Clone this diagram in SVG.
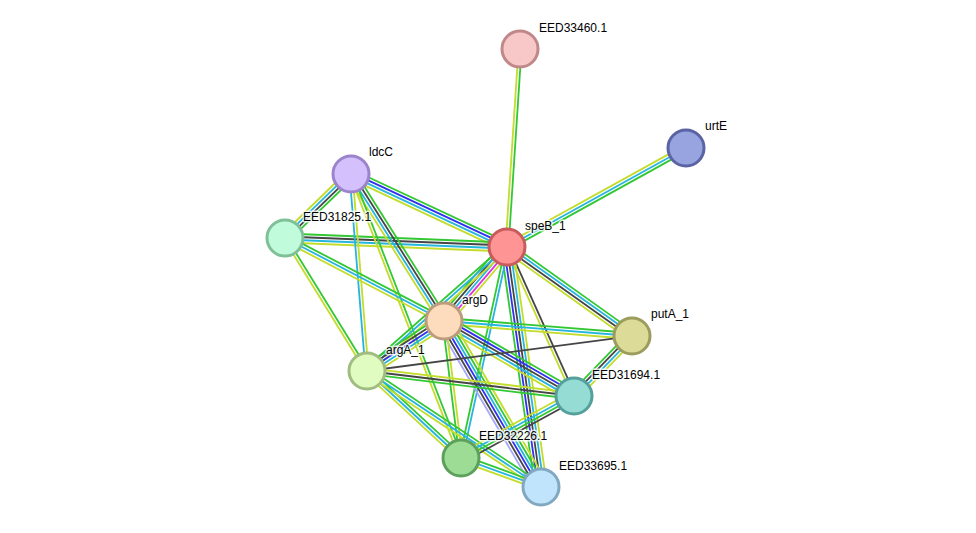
<svg xmlns="http://www.w3.org/2000/svg" width="976" height="533" viewBox="0 0 976 533">
<style>
line{stroke-width:1.8;fill:none}
.g{stroke:#33c833}.b{stroke:#3030f0}.k{stroke:#454545}.c{stroke:#26b5dd}.y{stroke:#c4dc2c}.m{stroke:#e030e0}.h{stroke:#a8a8f8}
circle{stroke-width:3}
text{font-family:"Liberation Sans",Arial,sans-serif;font-size:12px;fill:#000;stroke:#fff;stroke-width:3px;stroke-opacity:0.8;paint-order:stroke;stroke-linejoin:round}
</style>
<rect width="976" height="533" fill="#fff"/>
<g id="connectors">
<g transform="translate(507 247) rotate(-86.24)"><line class="y" x2="198.4" y1="-1.5" y2="-1.5"/><line class="g" x2="198.4" y1="1.5" y2="1.5"/></g>
<g transform="translate(507 247) rotate(-28.95)"><line class="y" x2="204.6" y1="-3" y2="-3"/><line class="c" x2="204.6"/><line class="g" x2="204.6" y1="3" y2="3"/></g>
<g transform="translate(507 247) rotate(-154.93)"><line class="y" x2="172.2" y1="-4.5" y2="-4.5"/><line class="c" x2="172.2" y1="-1.5" y2="-1.5"/><line class="b" x2="172.2" y1="1.5" y2="1.5"/><line class="g" x2="172.2" y1="4.5" y2="4.5"/></g>
<g transform="translate(351 174) rotate(135.88)"><line class="g" x2="91.9" y1="-4.5" y2="-4.5"/><line class="k" x2="91.9" y1="-1.5" y2="-1.5"/><line class="c" x2="91.9" y1="1.5" y2="1.5"/><line class="y" x2="91.9" y1="4.5" y2="4.5"/></g>
<g transform="translate(285 238) rotate(2.32)"><line class="g" x2="222.2" y1="-4.5" y2="-4.5"/><line class="k" x2="222.2" y1="-1.5" y2="-1.5"/><line class="c" x2="222.2" y1="1.5" y2="1.5"/><line class="y" x2="222.2" y1="4.5" y2="4.5"/></g>
<g transform="translate(351 174) rotate(57.68)"><line class="g" x2="174" y1="-4.5" y2="-4.5"/><line class="k" x2="174" y1="-1.5" y2="-1.5"/><line class="c" x2="174" y1="1.5" y2="1.5"/><line class="y" x2="174" y1="4.5" y2="4.5"/></g>
<g transform="translate(351 174) rotate(85.36)"><line class="y" x2="197.7" y1="-1.5" y2="-1.5"/><line class="c" x2="197.7" y1="1.5" y2="1.5"/></g>
<g transform="translate(351 174) rotate(68.83)"><line class="g" x2="304.6" y1="-1.5" y2="-1.5"/><line class="y" x2="304.6" y1="1.5" y2="1.5"/></g>
<g transform="translate(285 238) rotate(27.57)"><line class="g" x2="179.4" y1="-3" y2="-3"/><line class="c" x2="179.4"/><line class="y" x2="179.4" y1="3" y2="3"/></g>
<g transform="translate(285 238) rotate(58.35)"><line class="g" x2="156.3" y1="-1.5" y2="-1.5"/><line class="y" x2="156.3" y1="1.5" y2="1.5"/></g>
<g transform="translate(507 247) rotate(130.42)"><line class="y" x2="97.2" y1="-6" y2="-6"/><line class="m" x2="97.2" y1="-3" y2="-3"/><line class="c" x2="97.2"/><line class="k" x2="97.2" y1="3" y2="3"/><line class="g" x2="97.2" y1="6" y2="6"/></g>
<g transform="translate(507 247) rotate(138.47)"><line class="y" x2="187" y1="-3" y2="-3"/><line class="c" x2="187"/><line class="g" x2="187" y1="3" y2="3"/></g>
<g transform="translate(507 247) rotate(35.45)"><line class="g" x2="153.5" y1="-4.5" y2="-4.5"/><line class="c" x2="153.5" y1="-1.5" y2="-1.5"/><line class="k" x2="153.5" y1="1.5" y2="1.5"/><line class="y" x2="153.5" y1="4.5" y2="4.5"/></g>
<g transform="translate(507 247) rotate(65.79)"><line class="k" x2="163.4" y1="-1.5" y2="-1.5"/><line class="y" x2="163.4" y1="1.5" y2="1.5"/></g>
<g transform="translate(507 247) rotate(81.94)"><line class="y" x2="242.4" y1="-6" y2="-6"/><line class="c" x2="242.4" y1="-3" y2="-3"/><line class="k" x2="242.4"/><line class="b" x2="242.4" y1="3" y2="3"/><line class="g" x2="242.4" y1="6" y2="6"/></g>
<g transform="translate(507 247) rotate(102.3)"><line class="c" x2="216" y1="-1.5" y2="-1.5"/><line class="g" x2="216" y1="1.5" y2="1.5"/></g>
<g transform="translate(444 321) rotate(4.56)"><line class="g" x2="188.6" y1="-3" y2="-3"/><line class="c" x2="188.6"/><line class="y" x2="188.6" y1="3" y2="3"/></g>
<g transform="translate(367 371) rotate(-33)"><line class="g" x2="91.8" y1="-6" y2="-6"/><line class="k" x2="91.8" y1="-3" y2="-3"/><line class="b" x2="91.8"/><line class="c" x2="91.8" y1="3" y2="3"/><line class="y" x2="91.8" y1="6" y2="6"/></g>
<g transform="translate(444 321) rotate(29.98)"><line class="g" x2="150.1" y1="-6" y2="-6"/><line class="b" x2="150.1" y1="-3" y2="-3"/><line class="k" x2="150.1"/><line class="c" x2="150.1" y1="3" y2="3"/><line class="y" x2="150.1" y1="6" y2="6"/></g>
<g transform="translate(444 321) rotate(59.71)"><line class="y" x2="192.3" y1="-7.5" y2="-7.5"/><line class="g" x2="192.3" y1="-4.5" y2="-4.5"/><line class="c" x2="192.3" y1="-1.5" y2="-1.5"/><line class="b" x2="192.3" y1="1.5" y2="1.5"/><line class="k" x2="192.3" y1="4.5" y2="4.5"/><line class="h" x2="192.3" y1="7.5" y2="7.5"/></g>
<g transform="translate(444 321) rotate(82.93)"><line class="y" x2="138.1" y1="-1.5" y2="-1.5"/><line class="g" x2="138.1" y1="1.5" y2="1.5"/></g>
<g transform="translate(367 371) rotate(-7.52)"><line class="k" x2="267.3"/></g>
<g transform="translate(367 371) rotate(6.89)"><line class="y" x2="208.5" y1="-3" y2="-3"/><line class="k" x2="208.5"/><line class="g" x2="208.5" y1="3" y2="3"/></g>
<g transform="translate(367 371) rotate(42.78)"><line class="g" x2="128.1" y1="-3" y2="-3"/><line class="c" x2="128.1"/><line class="y" x2="128.1" y1="3" y2="3"/></g>
<g transform="translate(367 371) rotate(33.69)"><line class="g" x2="209.1" y1="-3" y2="-3"/><line class="c" x2="209.1"/><line class="y" x2="209.1" y1="3" y2="3"/></g>
<g transform="translate(574 396) rotate(-45.97)"><line class="g" x2="83.5" y1="-4.5" y2="-4.5"/><line class="k" x2="83.5" y1="-1.5" y2="-1.5"/><line class="c" x2="83.5" y1="1.5" y2="1.5"/><line class="y" x2="83.5" y1="4.5" y2="4.5"/></g>
<g transform="translate(574 396) rotate(151.25)"><line class="k" x2="128.9" y1="-4.5" y2="-4.5"/><line class="g" x2="128.9" y1="-1.5" y2="-1.5"/><line class="c" x2="128.9" y1="1.5" y2="1.5"/><line class="y" x2="128.9" y1="4.5" y2="4.5"/></g>
<g transform="translate(461 458) rotate(19.93)"><line class="g" x2="85.1" y1="-3" y2="-3"/><line class="c" x2="85.1"/><line class="y" x2="85.1" y1="3" y2="3"/></g>
</g>
<g id="node-EED33460.1"><circle cx="520" cy="49" r="18" fill="#f8c8c8" stroke="#c08888"/><text x="539" y="32">EED33460.1</text></g>
<g id="node-urtE"><circle cx="686" cy="148" r="18" fill="#98a4e0" stroke="#5a64a4"/><text x="705" y="130">urtE</text></g>
<g id="node-ldcC"><circle cx="351" cy="174" r="18" fill="#d4c0fc" stroke="#9c84cc"/><text x="369" y="156">ldcC</text></g>
<g id="node-EED31825.1"><circle cx="285" cy="238" r="18" fill="#c0fcdc" stroke="#80c098"/><text x="303" y="221">EED31825.1</text></g>
<g id="node-speB_1"><circle cx="507" cy="247" r="18" fill="#ff9494" stroke="#c85c5c"/><text x="525" y="230">speB_1</text></g>
<g id="node-argD"><circle cx="444" cy="321" r="18" fill="#fcdcbc" stroke="#bc9c7c"/><text x="462" y="304">argD</text></g>
<g id="node-putA_1"><circle cx="632" cy="336" r="18" fill="#dcdc98" stroke="#9c9c5c"/><text x="651" y="318">putA_1</text></g>
<g id="node-argA_1"><circle cx="367" cy="371" r="18" fill="#e0fcc0" stroke="#a0bc80"/><text x="386" y="354">argA_1</text></g>
<g id="node-EED31694.1"><circle cx="574" cy="396" r="18" fill="#94dcd4" stroke="#54a09c"/><text x="592" y="379">EED31694.1</text></g>
<g id="node-EED32226.1"><circle cx="461" cy="458" r="18" fill="#9cdc94" stroke="#5ca05c"/><text x="479" y="440">EED32226.1</text></g>
<g id="node-EED33695.1"><circle cx="541" cy="487" r="18" fill="#c0e4fc" stroke="#80a8c0"/><text x="559" y="470">EED33695.1</text></g>
</svg>
